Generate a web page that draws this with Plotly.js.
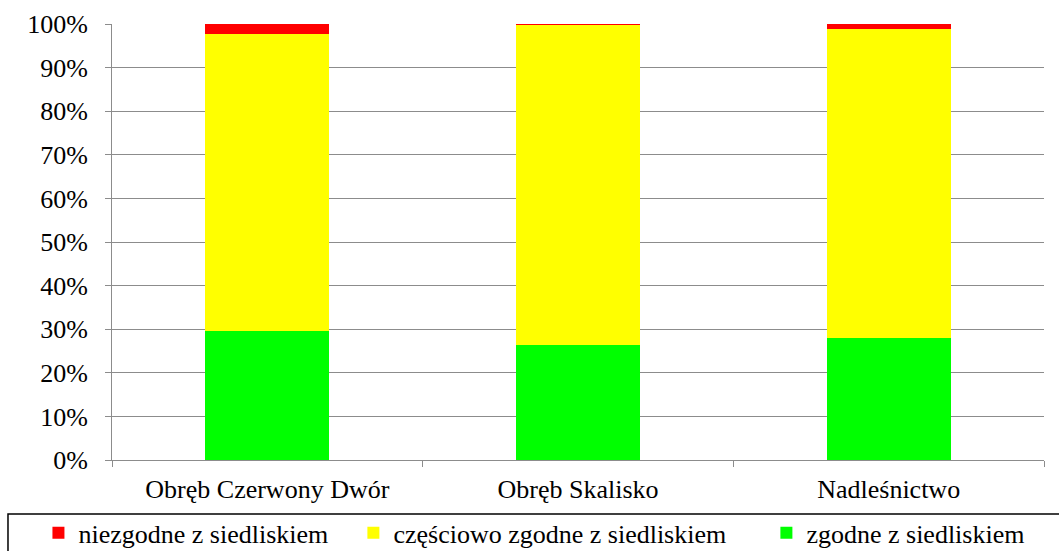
<!DOCTYPE html>
<html>
<head>
<meta charset="utf-8">
<script src="https://cdn.plot.ly/plotly-3.0.1.min.js"></script>
<style>
  html, body { margin: 0; padding: 0; background: #fff; }
  #chart { width: 1059px; height: 551px; }
</style>
</head>
<body>
<div id="chart"></div>
<script>
// Data (percent of total)
const categories = ['Obręb Czerwony Dwór', 'Obręb Skalisko', 'Nadleśnictwo'];
const zgodne = [29.7, 26.3, 27.9];
const czesciowoZgodne = [68.0, 73.4, 70.9];
const niezgodne = [2.3, 0.3, 1.2];
const seriesNames = ['zgodne z siedliskiem', 'częściowo zgodne z siedliskiem', 'niezgodne z siedliskiem'];
const yTickValues = [0, 10, 20, 30, 40, 50, 60, 70, 80, 90, 100];
const yTickLabels = ['0%', '10%', '20%', '30%', '40%', '50%', '60%', '70%', '80%', '90%', '100%'];

const fontFamily = 'Liberation Serif, Times New Roman, serif';
const fontSize = 26;
const gridColor = '#8c8c8c';

const traces = [
  { type: 'bar', x: categories, y: zgodne, name: seriesNames[0],
    marker: { color: '#00ff00', line: { width: 0 } }, legend: 'legend3' },
  { type: 'bar', x: categories, y: czesciowoZgodne, name: seriesNames[1],
    marker: { color: '#ffff00', line: { width: 0 } }, legend: 'legend2' },
  { type: 'bar', x: categories, y: niezgodne, name: seriesNames[2],
    marker: { color: '#ff0000', line: { width: 0 } }, legend: 'legend' }
];

function legendAt(x) {
  return {
    orientation: 'h', xref: 'container', yref: 'container',
    x: x, xanchor: 'left', y: 0.033, yanchor: 'middle',
    bgcolor: 'rgba(0,0,0,0)', borderwidth: 0,
    font: { family: fontFamily, size: fontSize, color: '#000' }
  };
}

const layout = {
  width: 1059, height: 551,
  margin: { l: 112, r: 15, t: 24, b: 91, pad: 0 },
  paper_bgcolor: '#ffffff', plot_bgcolor: '#ffffff',
  font: { family: fontFamily, size: fontSize, color: '#000' },
  barmode: 'stack',
  bargap: 0.6,
  showlegend: true,
  legend: legendAt(0.0363),
  legend2: legendAt(0.3337),
  legend3: legendAt(0.7237),
  xaxis: {
    type: 'category',
    tickson: 'boundaries',
    ticks: 'outside', ticklen: 6, tickcolor: gridColor, tickwidth: 1,
    ticklabelstandoff: 6,
    showline: true, linecolor: gridColor, linewidth: 1,
    showgrid: false, zeroline: false,
    tickfont: { family: fontFamily, size: fontSize, color: '#000' }
  },
  yaxis: {
    range: [0, 100],
    tickmode: 'array',
    tickvals: yTickValues,
    ticktext: yTickLabels,
    ticks: 'outside', ticklen: 6, tickcolor: gridColor, tickwidth: 1,
    ticklabelstandoff: 12,
    showline: true, linecolor: gridColor, linewidth: 1,
    showgrid: true, gridcolor: gridColor, gridwidth: 1,
    zeroline: false,
    tickfont: { family: fontFamily, size: fontSize, color: '#000' }
  },
  shapes: [{
    type: 'rect', xref: 'paper', yref: 'paper',
    x0: -0.1116, x1: 1.03, y0: -0.1239, y1: -0.25,
    line: { color: '#000', width: 1.5 }, fillcolor: 'rgba(0,0,0,0)', layer: 'above'
  }]
};

Plotly.newPlot('chart', traces, layout, { displayModeBar: false, staticPlot: true });
</script>
</body>
</html>
